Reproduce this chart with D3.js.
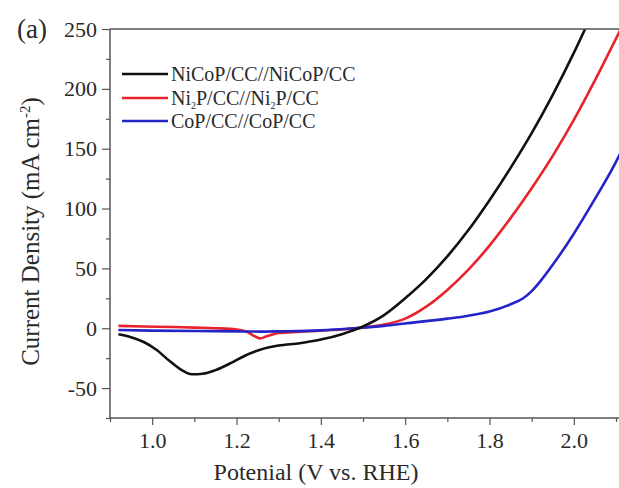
<!DOCTYPE html>
<html>
<head>
<meta charset="utf-8">
<script src="https://cdn.jsdelivr.net/npm/d3@7"></script>
<style>
  body { margin: 0; background: #fff; }
  svg { display: block; font-family: "Liberation Serif", "Times New Roman", serif; }
</style>
</head>
<body>
<svg id="svg" width="619" height="488"></svg>
<script>
// potential (V vs RHE) and current density (mA cm-2)
const nicopV = [0.92, 0.95, 0.98, 1.01, 1.04, 1.07, 1.094, 1.12, 1.15, 1.19, 1.22, 1.256, 1.3, 1.35, 1.4, 1.45, 1.5, 1.55, 1.6, 1.65, 1.7, 1.75, 1.8, 1.85, 1.9, 1.95, 2.0, 2.05]
const nicopJ = [-5, -7.5, -11.5, -18, -27, -35, -38.5, -38, -35, -28.5, -23, -18, -14.5, -12.5, -9.5, -5, 1.5, 11, 25, 41, 60, 82, 107, 134, 163, 195, 230, 268]

const ni2pV = [0.92, 0.98, 1.05, 1.1, 1.15, 1.2, 1.225, 1.245, 1.256, 1.27, 1.3, 1.35, 1.4, 1.45, 1.5, 1.55, 1.6, 1.65, 1.7, 1.75, 1.8, 1.85, 1.9, 1.95, 2.0, 2.05, 2.1, 2.11]
const ni2pJ = [2, 1.5, 1, 0.5, 0, -1, -3, -7, -8.5, -7, -4, -3, -2, -1, 0.5, 3, 8, 18, 32, 49, 69, 92, 117, 144, 174, 207, 242, 249]

const copV = [0.92, 1.0, 1.1, 1.2, 1.256, 1.3, 1.4, 1.48, 1.55, 1.6, 1.7, 1.75, 1.8, 1.85, 1.88, 1.9, 1.92, 1.95, 2.0, 2.05, 2.1, 2.11]
const copJ = [-1.5, -2, -2.3, -2.6, -2.8, -2.6, -1.8, 0, 2, 4, 8, 10.5, 14, 20, 25, 31, 39, 53, 79, 108, 139, 146]

const seriesNames = ["NiCoP/CC//NiCoP/CC", "Ni2P/CC//Ni2P/CC", "CoP/CC//CoP/CC"]
const seriesColors = ["#111111", "#e8232b", "#2424c8"]

const xMajor = [1.0, 1.2, 1.4, 1.6, 1.8, 2.0]
const xMinor = [0.9, 1.1, 1.3, 1.5, 1.7, 1.9, 2.1]
const yMajor = [-50, 0, 50, 100, 150, 200, 250]
const yMinor = [-75, -25, 25, 75, 125, 175, 225]

const svg = d3.select("#svg")
const mLeft = 110, mRight = 616, mTop = 29, mBottom = 418
const axisColor = "#555"
const textColor = "#2a2a2a"

const x = d3.scaleLinear().domain([0.9, 2.1]).range([mLeft, mRight])
const y = d3.scaleLinear().domain([-75, 250]).range([mBottom, mTop])

svg.append("defs").append("clipPath").attr("id", "plot")
  .append("rect").attr("x", mLeft).attr("y", mTop).attr("width", 619 - mLeft).attr("height", mBottom - mTop)

// curves
const line = d3.line().x(d => x(d[0])).y(d => y(d[1])).curve(d3.curveMonotoneX)
const series = [
  d3.zip(nicopV, nicopJ),
  d3.zip(ni2pV, ni2pJ),
  d3.zip(copV, copJ)
]
// red first, then blue over it, black on top
const g = svg.append("g").attr("clip-path", "url(#plot)")
;[1, 2, 0].forEach(i => {
  g.append("path")
    .attr("d", line(series[i]))
    .attr("fill", "none")
    .attr("stroke", seriesColors[i])
    .attr("stroke-width", 2.6)
})

// axes
const styleAxis = sel => {
  sel.select(".domain").remove()
  sel.selectAll("line").attr("stroke", axisColor).attr("stroke-width", 1.2)
  sel.selectAll("text").attr("fill", textColor).style("font-size", "22px")
    .style("font-family", "'Liberation Serif', 'Times New Roman', serif")
}

svg.append("g").attr("transform", `translate(0,${mBottom})`)
  .call(d3.axisBottom(x).tickValues(xMajor).tickFormat(d3.format(".1f")).tickSize(7).tickPadding(7))
  .call(styleAxis)
svg.append("g").attr("transform", `translate(0,${mBottom})`)
  .call(d3.axisBottom(x).tickValues(xMinor).tickFormat("").tickSize(4))
  .call(styleAxis)
svg.append("g").attr("transform", `translate(${mLeft},0)`)
  .call(d3.axisLeft(y).tickValues(yMajor).tickFormat(d => String(d)).tickSize(8).tickPadding(5))
  .call(styleAxis)
svg.append("g").attr("transform", `translate(${mLeft},0)`)
  .call(d3.axisLeft(y).tickValues(yMinor).tickFormat("").tickSize(4))
  .call(styleAxis)

// frame (right side is cut off in the figure)
const frame = svg.append("g").attr("stroke", axisColor).attr("stroke-width", 1.5)
frame.append("line").attr("x1", mLeft).attr("x2", 619).attr("y1", mTop).attr("y2", mTop)
frame.append("line").attr("x1", mLeft).attr("x2", 619).attr("y1", mBottom).attr("y2", mBottom)
frame.append("line").attr("x1", mLeft).attr("x2", mLeft).attr("y1", mTop).attr("y2", mBottom)

// axis titles
svg.append("text")
  .attr("x", 316).attr("y", 480)
  .attr("text-anchor", "middle").attr("fill", textColor).style("font-size", "24px")
  .text("Potenial (V vs. RHE)")

const yt = svg.append("text")
  .attr("transform", `translate(39,${(mTop + mBottom) / 2 + 8}) rotate(-90)`)
  .attr("text-anchor", "middle").attr("fill", textColor).style("font-size", "25px")
yt.append("tspan").text("Current Density (mA cm")
yt.append("tspan").attr("dy", -9).style("font-size", "15px").text("-2")
yt.append("tspan").attr("dy", 9).text(")")

svg.append("text").attr("x", 17).attr("y", 38)
  .attr("fill", textColor).style("font-size", "27px").text("(a)")

// legend
const legendY = [74, 98, 121]
seriesNames.forEach((name, i) => {
  const ly = legendY[i]
  svg.append("line").attr("x1", 122).attr("x2", 168).attr("y1", ly).attr("y2", ly)
    .attr("stroke", seriesColors[i]).attr("stroke-width", 2.6)
  const t = svg.append("text").attr("x", 171).attr("y", ly + 7)
    .attr("fill", textColor).style("font-size", "20px")
  if (name.includes("Ni2P")) {
    t.append("tspan").text("Ni")
    t.append("tspan").attr("dy", 4).style("font-size", "10px").text("2")
    t.append("tspan").attr("dy", -4).text("P/CC//Ni")
    t.append("tspan").attr("dy", 4).style("font-size", "10px").text("2")
    t.append("tspan").attr("dy", -4).text("P/CC")
  } else {
    t.text(name)
  }
})
</script>
</body>
</html>
